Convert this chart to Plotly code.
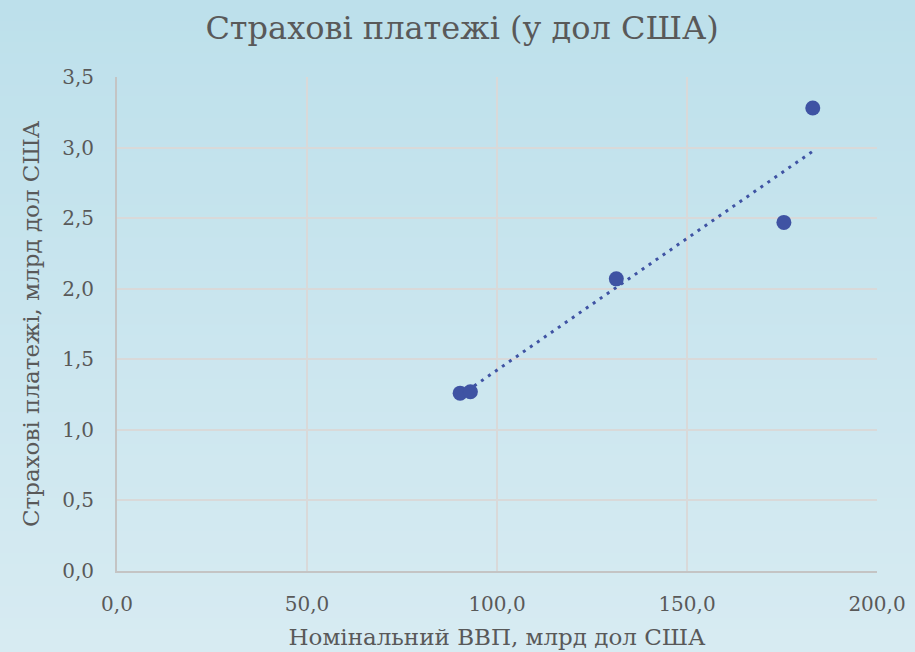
import numpy as np
import plotly.graph_objects as go

# Data
gdp = [90.3, 93.0, 131.4, 175.5, 183.1]        # Номінальний ВВП, млрд дол США
payments = [1.26, 1.27, 2.07, 2.47, 3.28]       # Страхові платежі, млрд дол США

title_text = "Страхові платежі (у дол США)"
x_title = "Номінальний ВВП, млрд дол США"
y_title = "Страхові платежі, млрд дол США"

x_ticks = [0, 50, 100, 150, 200]
y_ticks = [0, 0.5, 1.0, 1.5, 2.0, 2.5, 3.0, 3.5]

# Linear trendline from the data
slope, intercept = np.polyfit(gdp, payments, 1)
tx = np.array([min(gdp), max(gdp)])
ty = slope * tx + intercept

blue = "#3f53a3"
text_col = "#595959"
font_fam = "DejaVu Serif, Liberation Serif, serif"

fig = go.Figure()
fig.add_trace(go.Scatter(x=tx, y=ty, mode="lines",
                         line=dict(color=blue, width=3, dash="3px,5.5px"),
                         hoverinfo="skip", showlegend=False))
fig.add_trace(go.Scatter(x=gdp, y=payments, mode="markers",
                         marker=dict(color=blue, size=15),
                         showlegend=False))

# vertical gradient background via bands
top = np.array([0xbd, 0xe0, 0xeb])
bot = np.array([0xd7, 0xeb, 0xf2])
n = 60
shapes = []
H, PH, B = 652, 494, 81
for i in range(n):
    f = i / (n - 1)
    c = top + (bot - top) * f
    y1 = 1 - i / n
    y0 = 1 - (i + 1) / n
    shapes.append(dict(type="rect", xref="paper", yref="paper",
                       x0=-1, x1=2,
                       y0=-B/PH + y0 * (H/PH) - (0.05 if i == n - 1 else 0),
                       y1=-B/PH + y1 * (H/PH) + (0.05 if i == 0 else 0.003),
                       fillcolor="rgb(%d,%d,%d)" % tuple(c.round()),
                       line=dict(width=0), layer="below"))

fig.update_layout(
    width=915, height=652,
    margin=dict(l=117, r=38, t=77, b=81, autoexpand=False),
    paper_bgcolor="#c9e5ee",
    plot_bgcolor="rgba(0,0,0,0)",
    separators=", ",
    shapes=shapes,
    font=dict(family=font_fam, color=text_col, size=20),
    title=dict(text=title_text, x=0.505, xanchor="center", y=0.958, yanchor="middle",
               font=dict(size=32, color=text_col, family=font_fam)),
    showlegend=False,
)
fig.update_xaxes(range=[0, 200], tickvals=x_ticks, tickformat=".1f",
                 showgrid=True, gridcolor="#d9d9d9", gridwidth=2,
                 showline=True, linecolor="#c4c4c4", linewidth=2,
                 zeroline=False, ticks="", ticklabelstandoff=14, automargin=False,
                 title=dict(text=x_title, standoff=14, font=dict(size=23)),
                 tickfont=dict(size=20))
fig.update_yaxes(range=[0, 3.5], tickvals=y_ticks, tickformat=".1f",
                 showgrid=True, gridcolor="#d9d9d9", gridwidth=2,
                 showline=True, linecolor="#c4c4c4", linewidth=2,
                 zeroline=False, ticks="", ticklabelstandoff=17, automargin=False,
                 title=dict(text=y_title, standoff=16, font=dict(size=23)),
                 tickfont=dict(size=20))

fig.write_html("out.html",
               config={"displayModeBar": False},
               post_script="document.body.style.margin='0';document.body.style.background='#d7ebf2';")
